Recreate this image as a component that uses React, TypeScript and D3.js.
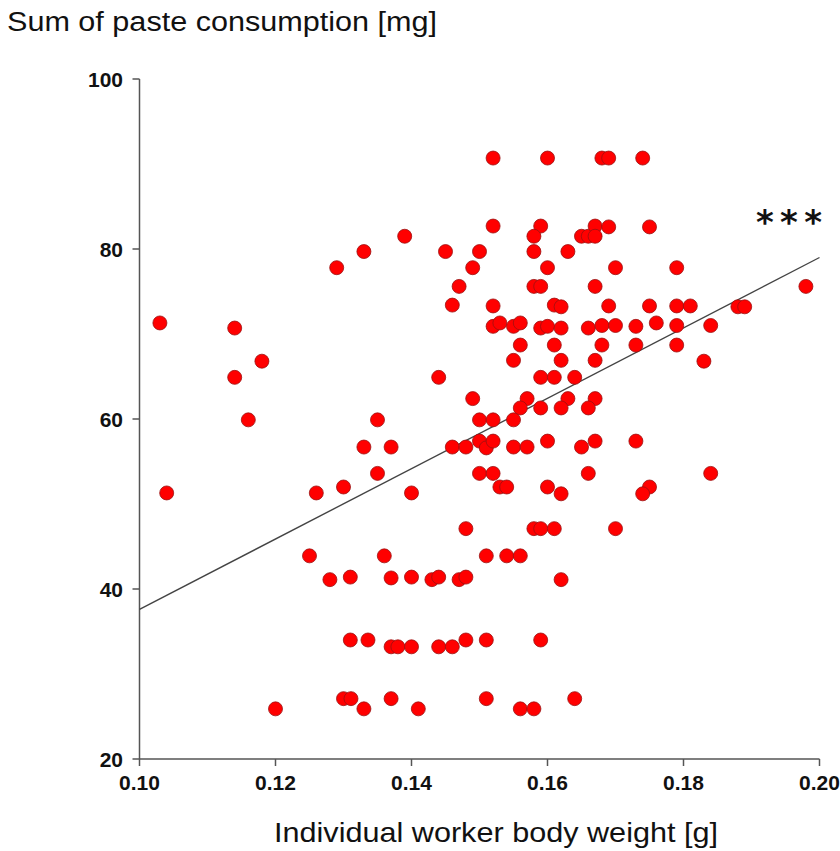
import React from "react";
import * as d3 from "d3";

// body weight [g]
const weights: number[] = [
  0.129, 0.133, 0.103, 0.114, 0.118, 0.114, 0.116, 0.133, 0.104, 0.126,
  0.130, 0.125, 0.128, 0.131, 0.131, 0.1336, 0.120, 0.130, 0.1311, 0.133,
  0.152, 0.160, 0.139, 0.152, 0.159, 0.158, 0.165, 0.166, 0.167, 0.167,
  0.145, 0.150, 0.149, 0.158, 0.163, 0.160, 0.147, 0.158, 0.159, 0.167,
  0.146, 0.152, 0.161, 0.162, 0.152, 0.153, 0.155, 0.156, 0.159, 0.160,
  0.162, 0.166, 0.156, 0.161, 0.155, 0.162, 0.167,
  0.168, 0.169, 0.174, 0.169, 0.175, 0.170, 0.179, 0.198, 0.169, 0.175,
  0.179, 0.181, 0.188, 0.189, 0.168, 0.170, 0.173, 0.176, 0.179, 0.184,
  0.168, 0.173, 0.179, 0.183,
  0.144, 0.159, 0.161, 0.164, 0.157, 0.163, 0.167, 0.149, 0.156, 0.159,
  0.162, 0.166, 0.135, 0.150, 0.152, 0.155, 0.137, 0.146, 0.148, 0.150,
  0.151, 0.152, 0.155, 0.157, 0.160, 0.165, 0.167, 0.135, 0.150, 0.152,
  0.153, 0.154, 0.160, 0.162, 0.166, 0.140, 0.148, 0.158, 0.159, 0.161,
  0.136, 0.151, 0.154, 0.156, 0.137, 0.140, 0.143, 0.144, 0.147, 0.148,
  0.162,
  0.173, 0.184, 0.175, 0.174, 0.170,
  0.137, 0.138, 0.140, 0.144, 0.146, 0.148, 0.151, 0.159, 0.137, 0.141,
  0.151, 0.156, 0.158, 0.164,
];

// paste consumption [mg]
const consumption: number[] = [
  77.8, 79.7, 71.3, 70.7, 66.8, 64.9, 59.9, 56.7, 51.3, 51.3,
  52.0, 43.9, 41.1, 41.4, 34.0, 34.0, 25.9, 27.1, 27.1, 25.9,
  90.7, 90.7, 81.5, 82.7, 82.7, 81.5, 81.5, 81.5, 82.7, 81.5,
  79.7, 79.7, 77.8, 79.7, 79.7, 77.8, 75.6, 75.6, 75.6, 75.6,
  73.4, 73.3, 73.4, 73.2, 70.9, 71.3, 70.9, 71.3, 70.7, 70.9,
  70.7, 70.7, 68.7, 68.7, 66.9, 66.9, 66.9,
  90.7, 90.7, 90.7, 82.6, 82.6, 77.8, 77.8, 75.6, 73.3, 73.3,
  73.3, 73.3, 73.2, 73.2, 71.0, 71.0, 70.9, 71.3, 71.0, 71.0,
  68.7, 68.7, 68.7, 66.8,
  64.9, 64.9, 64.9, 64.9, 62.4, 62.4, 62.4, 62.4, 61.3, 61.3,
  61.3, 61.3, 59.9, 59.9, 59.9, 59.9, 56.7, 56.7, 56.7, 57.4,
  56.6, 57.4, 56.7, 56.7, 57.4, 56.7, 57.4, 53.6, 53.6, 53.6,
  52.0, 52.0, 52.0, 51.2, 53.6, 51.3, 47.1, 47.1, 47.1, 47.1,
  43.9, 43.9, 43.9, 43.9, 41.3, 41.4, 41.1, 41.4, 41.1, 41.4,
  41.1,
  57.4, 53.6, 52.0, 51.2, 47.1,
  33.2, 33.2, 33.2, 33.2, 33.2, 34.0, 34.0, 34.0, 27.1, 25.9,
  27.1, 25.9, 25.9, 27.1,
];

// fitted regression line endpoints
const fitX: number[] = [0.10, 0.20];
const fitY: number[] = [37.6, 79.0];

const xTicks: number[] = [0.10, 0.12, 0.14, 0.16, 0.18, 0.20];
const yTicks: number[] = [20, 40, 60, 80, 100];

const yTitle = "Sum of paste consumption [mg]";
const xTitle = "Individual worker body weight [g]";
const significance = "***";

export default function App() {
  const W = 840;
  const H = 851;
  const x = d3.scaleLinear().domain([0.1, 0.2]).range([139.5, 819.5]);
  const y = d3.scaleLinear().domain([20, 100]).range([759, 79]);
  const points = weights.map((w, i) => ({ w, c: consumption[i] }));
  const line = d3
    .line<number>()
    .x((d) => x(fitX[d]))
    .y((d) => y(fitY[d]));
  const font = "'Liberation Sans', Arial, sans-serif";
  const axisColor = "#555";

  return (
    <svg
      width={W}
      height={H}
      style={{ position: "absolute", left: 0, top: 0, background: "#fff" }}
      fontFamily={font}
    >
      <rect width={W} height={H} fill="#fff" />
      {/* y title */}
      <text x={7} y={31} fontSize={27} fill="#111" textLength={430} lengthAdjust="spacingAndGlyphs">
        {yTitle}
      </text>
      {/* x title */}
      <text x={274} y={842} fontSize={28} fill="#111" textLength={444} lengthAdjust="spacingAndGlyphs">
        {xTitle}
      </text>

      {/* axes */}
      <line x1={x(0.1)} x2={x(0.1)} y1={y(100)} y2={y(20)} stroke={axisColor} strokeWidth={1.5} />
      <line x1={x(0.1)} x2={x(0.2)} y1={y(20)} y2={y(20)} stroke={axisColor} strokeWidth={1.5} />
      {yTicks.map((t) => (
        <g key={"y" + t}>
          <line x1={x(0.1) - 7} x2={x(0.1)} y1={y(t)} y2={y(t)} stroke={axisColor} strokeWidth={1.5} />
          <text
            x={123}
            y={y(t)}
            dy="0.36em"
            textAnchor="end"
            fontSize={21}
            fontWeight="bold"
            fill="#111"
          >
            {d3.format("d")(t)}
          </text>
        </g>
      ))}
      {xTicks.map((t) => (
        <g key={"x" + t}>
          <line x1={x(t)} x2={x(t)} y1={y(20)} y2={y(20) + 7} stroke={axisColor} strokeWidth={1.5} />
          <text x={x(t)} y={790} textAnchor="middle" fontSize={21} fontWeight="bold" fill="#111">
            {d3.format(".2f")(t)}
          </text>
        </g>
      ))}

      {/* regression */}
      <path d={line([0, 1]) || ""} stroke="#444" strokeWidth={1.4} fill="none" />

      {/* points */}
      {points.map((p, i) => (
        <circle
          key={i}
          cx={x(p.w)}
          cy={y(p.c)}
          r={7}
          fill="#ff0000"
          stroke="#9a1010"
          strokeWidth={0.8}
        />
      ))}

      <text
        x={756}
        y={234}
        fontSize={34}
        fontWeight="bold"
        fontFamily="'DejaVu Sans', sans-serif"
        fill="#111"
        textLength={66}
        lengthAdjust="spacing"
      >
        {significance}
      </text>
    </svg>
  );
}
